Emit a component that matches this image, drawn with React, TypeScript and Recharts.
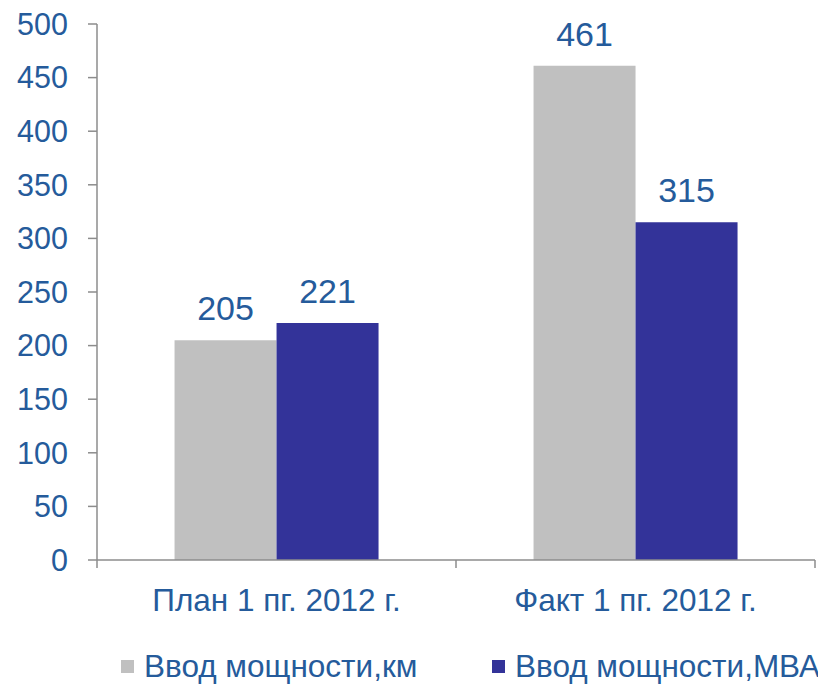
import React from "react";
import { BarChart, Bar, XAxis, YAxis, Legend, LabelList } from "recharts";

const categories = ["План 1 пг. 2012 г.", "Факт 1 пг. 2012 г."];
const kmValues = [205, 461];
const mvaValues = [221, 315];
const yTicks = [0, 50, 100, 150, 200, 250, 300, 350, 400, 450, 500];
const seriesNames = ["Ввод мощности,км", "Ввод мощности,МВА"];

const data = categories.map((name, i) => ({ name, km: kmValues[i], mva: mvaValues[i] }));

const TEXT = "#255b9b";
const AXIS = "#8c8c8c";
const GRAY = "#c0c0c0";
const BLUE = "#333399";
const FONT = "'Liberation Sans', Arial, sans-serif";

function CategoryTick(props: any) {
  const { x, y, payload, index, width, visibleTicksCount } = props;
  const band = (width ?? 718) / (visibleTicksCount ?? 2);
  const left = x - band / 2;
  const right = x + band / 2;
  return (
    <g>
      <line x1={left} x2={left} y1={y} y2={y + 8} stroke={AXIS} strokeWidth={1.5} />
      {index === (visibleTicksCount ?? 2) - 1 && (
        <line x1={right} x2={right} y1={y} y2={y + 8} stroke={AXIS} strokeWidth={1.5} />
      )}
      <text x={x} y={y + 51} textAnchor="middle" fill={TEXT} fontSize={31.5} fontFamily={FONT}>
        {payload.value}
      </text>
    </g>
  );
}

function LegendBox() {
  const item = (left: number, color: string, label: string) => (
    <div style={{ position: "absolute", left, top: 0, height: 36, display: "flex", alignItems: "center" }}>
      <div style={{ width: 13, height: 13, background: color, marginRight: 10 }} />
      <span style={{ fontSize: 31.5, lineHeight: "36px", color: TEXT, fontFamily: FONT, whiteSpace: "nowrap" }}>
        {label}
      </span>
    </div>
  );
  return (
    <div style={{ position: "relative", height: 36, width: 818 }}>
      {item(113, GRAY, seriesNames[0])}
      {item(484, BLUE, seriesNames[1])}
    </div>
  );
}

export default function App() {
  return (
    <BarChart
      width={818}
      height={676}
      data={data}
      margin={{ top: 16, right: 11, bottom: 0, left: 0 }}
      barCategoryGap="21.6%"
      barGap={0}
      style={{ fontFamily: FONT, overflow: "visible" }}
    >
      <XAxis
        dataKey="name"
        height={88}
        tickLine={false}
        tickSize={0}
        tickMargin={0}
        interval={0}
        axisLine={{ stroke: AXIS, strokeWidth: 1.5 }}
        tick={<CategoryTick />}
      />
      <YAxis
        width={89}
        domain={[0, 500]}
        ticks={yTicks}
        interval={0}
        tickSize={9}
        tickMargin={20}
        axisLine={{ stroke: AXIS, strokeWidth: 1.5 }}
        tickLine={{ stroke: AXIS, strokeWidth: 1.5 }}
        tick={{ fill: TEXT, fontSize: 30.5, fontFamily: FONT }}
      />
      <Legend
        verticalAlign="bottom"
        content={<LegendBox />}
        wrapperStyle={{ left: 0, width: 818, overflow: "visible" }}
      />
      <Bar dataKey="km" name={seriesNames[0]} fill={GRAY} isAnimationActive={false}>
        <LabelList dataKey="km" position="top" offset={20} fill={TEXT} fontSize={34} fontFamily={FONT} />
      </Bar>
      <Bar dataKey="mva" name={seriesNames[1]} fill={BLUE} isAnimationActive={false}>
        <LabelList dataKey="mva" position="top" offset={20} fill={TEXT} fontSize={34} fontFamily={FONT} />
      </Bar>
    </BarChart>
  );
}
